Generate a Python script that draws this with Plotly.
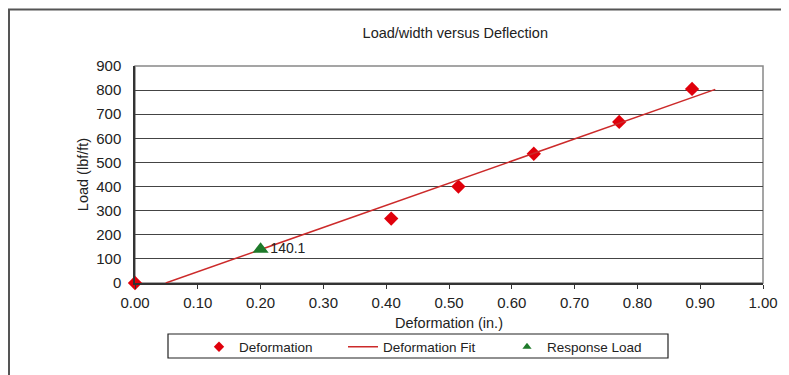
import plotly.graph_objects as go

# Data
deform_x = [0.0, 0.408, 0.515, 0.635, 0.771, 0.887]
deform_y = [0, 267, 400, 536, 668, 805]
fit_x = [0.049, 0.924]
fit_y = [0, 803]
resp_x = [0.20]
resp_y = [140.1]
resp_label = ["140.1"]
x_ticks = [0, 0.1, 0.2, 0.3, 0.4, 0.5, 0.6, 0.7, 0.8, 0.9, 1.0]
y_ticks = [0, 100, 200, 300, 400, 500, 600, 700, 800, 900]

FONT = "Liberation Sans, Arial, sans-serif"
RED = "#e0000b"
LINE_RED = "#cc2a2a"
GREEN = "#1e7a2a"

fig = go.Figure()
fig.add_trace(go.Scatter(
    x=deform_x, y=deform_y, mode="markers", name="Deformation", showlegend=False,
    marker=dict(symbol="diamond", size=11, color=RED),
    cliponaxis=False,
))
fig.add_trace(go.Scatter(
    x=fit_x, y=fit_y, mode="lines", name="Deformation Fit", showlegend=False,
    line=dict(color=LINE_RED, width=1.5),
))
fig.add_trace(go.Scatter(
    x=resp_x, y=resp_y, mode="markers+text", name="Response Load", showlegend=False,
    marker=dict(symbol="triangle-up", size=14, color=GREEN),
    text=resp_label, textposition="middle right",
    textfont=dict(size=14, color="#222", family=FONT),
    cliponaxis=False,
))
# legend entries (smaller symbols, as in the reference)
fig.add_trace(go.Scatter(x=[None], y=[None], mode="markers", name="Deformation",
                         marker=dict(symbol="diamond", size=8, color=RED), legend="legend"))
fig.add_trace(go.Scatter(x=[None], y=[None], mode="lines", name="Deformation Fit",
                         line=dict(color=LINE_RED, width=1.5), legend="legend2"))
fig.add_trace(go.Scatter(x=[None], y=[None], mode="markers", name="Response Load",
                         marker=dict(symbol="triangle-up", size=8, color=GREEN), legend="legend3"))

leg_common = dict(orientation="h", xanchor="left", y=1 - 323.5 / 367, yref="container",
                  yanchor="top", borderwidth=0, bgcolor="rgba(0,0,0,0)",
                  font=dict(size=13.5, color="#222", family=FONT))

fig.update_layout(
    width=781, height=367,
    margin=dict(l=127, r=26, t=58, b=92),
    paper_bgcolor="white", plot_bgcolor="white",
    font=dict(family=FONT, size=13, color="#222"),
    title=dict(text="Load/width versus Deflection", x=0.51, xref="paper",
               y=0.932, yref="container", xanchor="center", yanchor="middle",
               font=dict(size=14.5, color="#222")),
    showlegend=True,
    legend=dict(x=(199 - 135) / 628, **leg_common),
    legend2=dict(x=(343 - 135) / 628, **leg_common),
    legend3=dict(x=(507 - 135) / 628, **leg_common),
    xaxis=dict(range=[0, 1], tickvals=x_ticks, tickformat=".2f",
               showgrid=False, zeroline=False, showline=True, linecolor="#333", linewidth=1.5,
               ticks="outside", ticklen=4, tickcolor="#333",
               ticklabelstandoff=1, tickfont=dict(size=15),
               title=dict(text="Deformation (in.)", standoff=10, font=dict(size=14.5)),
               automargin=False),
    yaxis=dict(range=[0, 900], tickvals=y_ticks,
               showgrid=True, gridcolor="#444", gridwidth=1.2, zeroline=False,
               showline=True, linecolor="#333", linewidth=1.5, ticks="",
               ticklabelstandoff=9, tickfont=dict(size=15),
               title=dict(text="Load (lbf/ft)", standoff=4, font=dict(size=14.5)),
               automargin=False),
    shapes=[
        dict(type="rect", xref="paper", yref="paper", x0=0, x1=1, y0=0, y1=1,
             line=dict(color="#888", width=1.5), layer="below"),
        dict(type="rect", xref="paper", yref="paper", x0=(168 - 135) / 628, x1=(668 - 135) / 628,
             y0=(283 - 358) / 217, y1=(283 - 334) / 217,
             line=dict(color="#222", width=1.2)),
        dict(type="rect", xref="paper", yref="paper", x0=(9 - 135) / 628, x1=1.2,
             y0=-0.6, y1=(275 - 1.5) / 217,
             line=dict(color="#555", width=2)),
    ],
)

fig.write_html("out.html")
